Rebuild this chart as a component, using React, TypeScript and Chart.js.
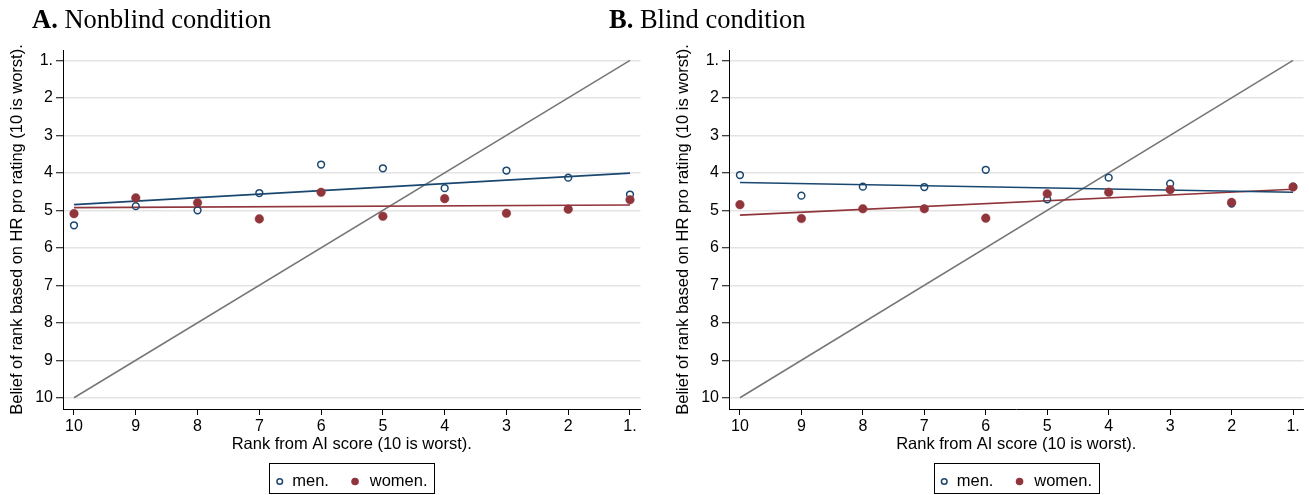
import React, { useEffect, useRef } from 'react';
import { Chart, registerables } from 'chart.js';

Chart.register(...registerables);

// ---- data ----
const ranks = [10, 9, 8, 7, 6, 5, 4, 3, 2, 1];
const nonblindMen = [5.40, 4.89, 5.00, 4.54, 3.78, 3.88, 4.41, 3.94, 4.13, 4.58];
const nonblindWomen = [5.09, 4.67, 4.80, 5.23, 4.52, 5.16, 4.69, 5.08, 4.97, 4.72];
const blindMen = [4.06, 4.61, 4.37, 4.38, 3.92, 4.71, 4.13, 4.29, 4.82, 4.37];
const blindWomen = [4.85, 5.22, 4.96, 4.96, 5.21, 4.56, 4.52, 4.45, 4.79, 4.38];
const fitX = [10, 1];
const nonblindMenFit = [4.85, 4.01];
const nonblindWomenFit = [4.93, 4.86];
const blindMenFit = [4.26, 4.52];
const blindWomenFit = [5.13, 4.44];
const diagonalX = [10, 1];
const diagonalY = [10, 1];
const tickValues = [1, 2, 3, 4, 5, 6, 7, 8, 9, 10];
const seriesLabels = ['men.', 'women.'];
const xTitle = 'Rank from AI score (10 is worst).';
const yTitle = 'Belief of rank based on HR pro rating (10 is worst).';
const panelTitles = [
  { bold: 'A.', rest: ' Nonblind condition' },
  { bold: 'B.', rest: ' Blind condition' },
];

const NAVY = '#1a476f';
const MAROON = '#90353b';
const GRAY = '#767676';
const SANS = '"Liberation Sans", Arial, sans-serif';
const SERIF = '"Liberation Serif", "Times New Roman", serif';

const toPts = (xs: number[], ys: number[]) => xs.map((x, i) => ({ x, y: ys[i] }));
const tickLabel = (v: any) => (Number(v) === 1 ? '1.' : String(v));

const boxLegend = {
  id: 'boxLegend',
  afterDraw(chart: any) {
    const { ctx, chartArea } = chart;
    const cx = (chartArea.left + chartArea.right) / 2;
    const ty = 481.5;
    ctx.save();
    ctx.strokeStyle = '#000';
    ctx.lineWidth = 1;
    ctx.strokeRect(Math.round(cx - 82.5) + 0.5, 463.5, 165, 30);
    // men marker (hollow)
    ctx.beginPath();
    ctx.arc(cx - 72, ty, 2.8, 0, Math.PI * 2);
    ctx.strokeStyle = NAVY;
    ctx.lineWidth = 1.5;
    ctx.stroke();
    // women marker (filled)
    ctx.beginPath();
    ctx.arc(cx + 3.3, ty, 3.8, 0, Math.PI * 2);
    ctx.fillStyle = MAROON;
    ctx.fill();
    ctx.fillStyle = '#000';
    ctx.font = '16.5px ' + SANS;
    ctx.textBaseline = 'middle';
    ctx.textAlign = 'left';
    ctx.fillText(seriesLabels[0], cx - 59.5, ty);
    ctx.fillText(seriesLabels[1], cx + 18, ty);
    ctx.restore();
  },
};

function Panel(props: {
  men: number[];
  women: number[];
  menFit: number[];
  womenFit: number[];
  left: number;
  width: number;
}) {
  const ref = useRef<HTMLCanvasElement | null>(null);
  useEffect(() => {
    if (!ref.current) return;
    const rightPad = props.width - 63 - 577.5;
    const chart = new Chart(ref.current, {
      type: 'scatter',
      data: {
        datasets: [
          {
            label: seriesLabels[1],
            data: toPts(ranks, props.women),
            pointStyle: 'circle',
            pointRadius: 4.3,
            pointBackgroundColor: MAROON,
            pointBorderColor: MAROON,
            pointBorderWidth: 0.5,
            order: 0,
          },
          {
            label: seriesLabels[0],
            data: toPts(ranks, props.men),
            pointStyle: 'circle',
            pointRadius: 3.4,
            pointBackgroundColor: 'rgba(255,255,255,0)',
            pointBorderColor: NAVY,
            pointBorderWidth: 1.5,
            order: 1,
          },
          {
            label: 'men fit',
            data: toPts(fitX, props.menFit),
            showLine: true,
            borderColor: NAVY,
            borderWidth: 1.6,
            pointRadius: 0,
            order: 2,
          },
          {
            label: 'women fit',
            data: toPts(fitX, props.womenFit),
            showLine: true,
            borderColor: MAROON,
            borderWidth: 1.6,
            pointRadius: 0,
            order: 3,
          },
          {
            label: '45 degree',
            data: toPts(diagonalX, diagonalY),
            showLine: true,
            borderColor: GRAY,
            borderWidth: 1.5,
            pointRadius: 0,
            order: 4,
          },
        ],
      },
      options: {
        responsive: false,
        maintainAspectRatio: false,
        animation: false,
        events: [],
        layout: { padding: { left: 0, top: 50, right: rightPad, bottom: 40.6 } },
        plugins: { legend: { display: false }, tooltip: { enabled: false } },
        scales: {
          x: {
            type: 'linear',
            min: 0.83,
            max: 10.178,
            reverse: true,
            afterBuildTicks: (s: any) => {
              s.ticks = tickValues.map((v) => ({ value: v }));
            },
            afterFit: (s: any) => {
              s.height = 45.4;
            },
            ticks: {
              autoSkip: false,
              maxRotation: 0,
              color: '#000',
              padding: 2,
              font: { family: SANS, size: 16 },
              callback: tickLabel,
            },
            grid: {
              display: true,
              drawOnChartArea: false,
              drawTicks: true,
              tickLength: 6,
              tickColor: '#000',
              tickWidth: 1,
            },
            border: { display: true, color: '#000', width: 1 },
            title: {
              display: true,
              text: xTitle,
              color: '#000',
              font: { family: SANS, size: 16.5 },
              padding: { top: 0, bottom: 0 },
            },
          },
          y: {
            type: 'linear',
            min: 0.725,
            max: 10.3,
            reverse: true,
            afterBuildTicks: (s: any) => {
              s.ticks = tickValues.map((v) => ({ value: v }));
            },
            afterFit: (s: any) => {
              s.width = 63;
            },
            ticks: {
              autoSkip: false,
              color: '#000',
              padding: 3,
              font: { family: SANS, size: 16 },
              callback: tickLabel,
            },
            grid: {
              display: true,
              drawOnChartArea: true,
              color: '#e4e4e4',
              lineWidth: 1.5,
              drawTicks: true,
              tickLength: 7,
              tickColor: '#000',
              tickWidth: 1,
            },
            border: { display: true, color: '#000', width: 1 },
            title: {
              display: true,
              text: yTitle,
              color: '#000',
              font: { family: SANS, size: 16.5 },
              padding: { top: 8, bottom: 0 },
            },
          },
        },
      },
      plugins: [boxLegend],
    } as any);
    return () => chart.destroy();
  }, []);
  return (
    <canvas
      ref={ref}
      width={props.width}
      height={495}
      style={{ position: 'absolute', left: props.left, top: 0, width: props.width, height: 495 }}
    />
  );
}

export default function App() {
  return (
    <div
      style={{
        position: 'fixed',
        left: 0,
        top: 0,
        width: 1309,
        height: 495,
        background: '#fff',
        overflow: 'hidden',
      }}
    >
      <Panel men={nonblindMen} women={nonblindWomen} menFit={nonblindMenFit} womenFit={nonblindWomenFit} left={0} width={654} />
      <Panel men={blindMen} women={blindWomen} menFit={blindMenFit} womenFit={blindWomenFit} left={666} width={643} />
      {panelTitles.map((t, i) => (
        <div
          key={i}
          style={{
            position: 'absolute',
            left: i === 0 ? 32 : 609,
            top: 6,
            fontFamily: SERIF,
            fontSize: 26.5,
            lineHeight: '26px',
            whiteSpace: 'nowrap',
            color: '#000',
          }}
        >
          <b>{t.bold}</b>
          {t.rest}
        </div>
      ))}
    </div>
  );
}
